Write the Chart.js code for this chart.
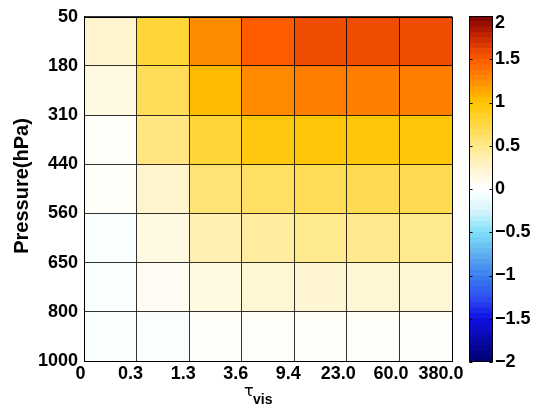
<!DOCTYPE html>
<html>
<head>
<meta charset="utf-8">
<script src="https://cdn.jsdelivr.net/npm/chart.js@4"></script>
<style>
html,body{margin:0;padding:0;background:#fff;}
#wrap{position:relative;width:536px;height:418px;}
#main{position:absolute;left:0;top:0;}
#cbar{position:absolute;left:460px;top:0;}
</style>
</head>
<body>
<div id="wrap">
<canvas id="main" width="536" height="418"></canvas>
<canvas id="cbar" width="76" height="418"></canvas>
</div>
<script>
// ---- data ----
const tauTicks = ['0', '0.3', '1.3', '3.6', '9.4', '23.0', '60.0', '380.0'];
const pressureTicks = ['50', '180', '310', '440', '560', '650', '800', '1000']; // top to bottom
// values per pressure layer (top to bottom), columns left to right in tau bins
const row50_180   = [0.24, 0.78, 1.25, 1.49, 1.57, 1.57, 1.57];
const row180_310  = [0.14, 0.67, 1.04, 1.26, 1.32, 1.32, 1.32];
const row310_440  = [0.04, 0.53, 0.78, 0.95, 0.97, 0.97, 0.97];
const row440_560  = [0.03, 0.24, 0.57, 0.63, 0.68, 0.69, 0.69];
const row560_650  = [-0.04, 0.14, 0.34, 0.42, 0.48, 0.49, 0.48];
const row650_800  = [-0.04, 0.06, 0.14, 0.21, 0.22, 0.21, 0.21];
const row800_1000 = [-0.04, -0.03, 0.03, 0.03, 0.03, 0.03, 0.03];
const rows = [row50_180, row180_310, row310_440, row440_560, row560_650, row650_800, row800_1000];
const cbarTicks = [-2, -1.5, -1, -0.5, 0, 0.5, 1, 1.5, 2];

// ---- colormap ----
const cmapStops = [
  [-2.0, [0, 0, 112]],
  [-1.75, [8, 8, 168]],
  [-1.5, [16, 16, 228]],
  [-1.25, [48, 80, 240]],
  [-1.0, [58, 128, 240]],
  [-0.75, [96, 176, 240]],
  [-0.5, [128, 224, 248]],
  [-0.25, [216, 246, 252]],
  [0.0, [255, 255, 255]],
  [0.25, [255, 244, 204]],
  [0.5, [255, 232, 138]],
  [0.75, [255, 215, 64]],
  [1.0, [255, 196, 0]],
  [1.25, [255, 140, 0]],
  [1.5, [255, 90, 0]],
  [1.75, [200, 40, 0]],
  [2.0, [122, 0, 0]]
];
function cmap(v) {
  v = Math.max(-2, Math.min(2, v));
  for (let i = 0; i < cmapStops.length - 1; i++) {
    const [a, ca] = cmapStops[i], [b, cb] = cmapStops[i + 1];
    if (v >= a && v <= b) {
      const t = (v - a) / (b - a);
      const c = ca.map((x, k) => Math.round(x + (cb[k] - x) * t));
      return `rgb(${c[0]},${c[1]},${c[2]})`;
    }
  }
  return 'rgb(122,0,0)';
}

const FONT = '"Liberation Sans", Arial, sans-serif';

// ---- main heatmap ----
const datasets = rows.map((vals, r) => ({
  data: vals.map((v, c) => ({ x: c + 0.5, y: [r, r + 1] })),
  backgroundColor: vals.map(v => cmap(v)),
  borderWidth: 0,
  barPercentage: 1,
  categoryPercentage: 1,
  grouped: false
}));

const titlePlugin = {
  id: 'titles',
  afterDraw(chart) {
    const ctx = chart.ctx;
    ctx.save();
    ctx.fillStyle = '#000';
    ctx.font = 'bold 20px ' + FONT;
    ctx.textAlign = 'center';
    ctx.textBaseline = 'middle';
    ctx.translate(22, 186);
    ctx.rotate(-Math.PI / 2);
    ctx.fillText('Pressure(hPa)', 0, 0);
    ctx.restore();
    ctx.save();
    ctx.fillStyle = '#000';
    ctx.textAlign = 'left';
    ctx.textBaseline = 'alphabetic';
    ctx.font = '16px "DejaVu Sans", sans-serif';
    ctx.fillText('\u03C4', 244, 396);
    ctx.font = 'bold 14px ' + FONT;
    ctx.fillText('vis', 253, 404);
    ctx.restore();
  }
};

const gridOpts = { color: 'rgba(0,0,0,0.8)', lineWidth: 1, drawTicks: false, offset: false, z: 1 };

new Chart(document.getElementById('main'), {
  type: 'bar',
  data: { datasets },
  options: {
    responsive: false,
    animation: false,
    devicePixelRatio: 1,
    layout: { padding: { left: 0, top: 12, right: 84, bottom: 0 } },
    plugins: { legend: { display: false }, tooltip: { enabled: false } },
    scales: {
      x: {
        type: 'linear', min: 0, max: 7, offset: false,
        afterFit(s) { s.height = 57; },
        afterBuildTicks(s) { s.ticks = tauTicks.map((_, i) => ({ value: i })); },
        ticks: {
          // trailing spaces nudge the label centres left of the bin edges, as in the reference
          callback: v => tauTicks[v] + ' '.repeat(Math.max(1, Math.round(tauTicks[v].length * 0.8))),
          color: '#000', font: { family: FONT, size: 18, weight: 'bold' },
          padding: 2, maxRotation: 0, autoSkip: false, labelOffset: -1
        },
        grid: gridOpts,
        border: { color: '#000', width: 1, z: 1 }
      },
      y: {
        type: 'linear', min: 0, max: 7, reverse: true,
        afterFit(s) { s.width = 84; },
        afterBuildTicks(s) { s.ticks = pressureTicks.map((_, i) => ({ value: i })); },
        ticks: {
          callback: v => pressureTicks[v],
          color: '#000', font: { family: FONT, size: 18, weight: 'bold' },
          padding: 6, autoSkip: false
        },
        grid: gridOpts,
        border: { color: '#000', width: 1, z: 1 }
      }
    }
  },
  plugins: [titlePlugin, {
    id: 'frame',
    afterDraw(chart) {
      const { ctx, chartArea: a } = chart;
      ctx.save();
      ctx.strokeStyle = '#000';
      ctx.lineWidth = 1;
      ctx.strokeRect(Math.round(a.left) + 0.5, Math.round(a.top) + 0.5, Math.round(a.right - a.left), Math.round(a.bottom - a.top));
      ctx.restore();
    }
  }]
});

// ---- colorbar ----
const nLevels = 64;
const cbDatasets = [];
for (let i = 0; i < nLevels; i++) {
  const lo = -2 + 4 * i / nLevels, hi = -2 + 4 * (i + 1) / nLevels;
  cbDatasets.push({
    data: [[lo, hi]],
    backgroundColor: cmap((lo + hi) / 2),
    borderWidth: 0, barPercentage: 1, categoryPercentage: 1, grouped: false
  });
}
const fmt = v => v === 0 ? '0' : (v < 0 ? '\u2212' : '') + String(Math.abs(v));
new Chart(document.getElementById('cbar'), {
  type: 'bar',
  data: { labels: [''], datasets: cbDatasets },
  options: {
    responsive: false,
    animation: false,
    devicePixelRatio: 1,
    layout: { padding: { left: 9, top: 12, right: 0, bottom: 56 } },
    plugins: { legend: { display: false }, tooltip: { enabled: false } },
    scales: {
      x: { display: false },
      y: {
        type: 'linear', position: 'right', min: -2, max: 2,
        afterFit(s) { s.width = 43; },
        afterBuildTicks(s) { s.ticks = cbarTicks.map(v => ({ value: v })); },
        ticks: {
          callback: v => (v === 2 ? ['', fmt(v)] : fmt(v)),
          color: '#000',
          font: ctx => ({ family: FONT, size: 18, weight: 'bold', lineHeight: (ctx.tick && ctx.tick.value === 2) ? '14px' : 1.2 }),
          padding: 2, autoSkip: false
        },
        grid: { display: false, drawTicks: false },
        border: { display: false }
      }
    }
  },
  plugins: [{
    id: 'cbframe',
    afterDraw(chart) {
      const { ctx, chartArea: a, scales } = chart;
      ctx.save();
      ctx.strokeStyle = '#000';
      ctx.lineWidth = 1;
      const l = Math.round(a.left) + 0.5, r = Math.round(a.right) - 0.5;
      ctx.strokeRect(l, Math.round(a.top) + 0.5, r - l, Math.round(a.bottom - a.top) - 1);
      ctx.beginPath();
      cbarTicks.forEach(v => {
        const y = Math.round(scales.y.getPixelForValue(v)) + 0.5;
        ctx.moveTo(l, y); ctx.lineTo(l + 3, y);
        ctx.moveTo(r, y); ctx.lineTo(r - 3, y);
      });
      ctx.stroke();
      ctx.restore();
    }
  }]
});
</script>
</body>
</html>
